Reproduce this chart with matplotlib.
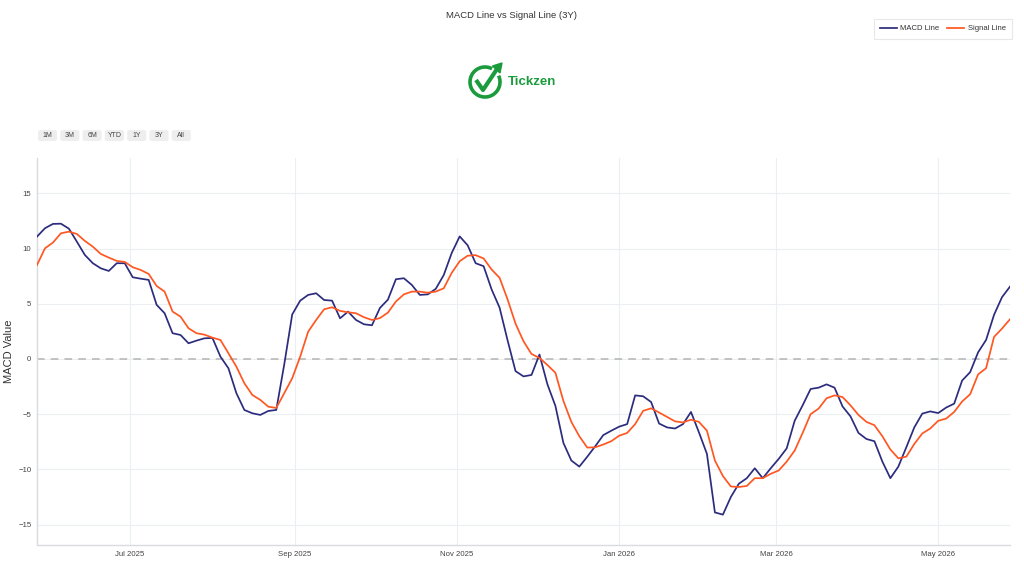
import numpy as np
import pandas as pd
import matplotlib
matplotlib.use("Agg")
import matplotlib.pyplot as plt
import matplotlib.dates as mdates
from matplotlib.patches import Arc, FancyBboxPatch, Polygon

plt.rcParams['font.family'] = ['Liberation Sans', 'DejaVu Sans']

# data, one reading every 3 days
dates = pd.date_range("2025-05-27", periods=123, freq="3D")

macd = [11.08, 11.84, 12.23, 12.25, 11.8, 10.62, 9.42, 8.67, 8.21, 7.97,
        8.67, 8.67, 7.4, 7.27, 7.16, 4.9, 4.14, 2.33, 2.17, 1.42,
        1.66, 1.87, 1.9, 0.21, -0.84, -3.1, -4.62, -4.92, -5.07, -4.71,
        -4.62, -0.5, 4.03, 5.28, 5.8, 5.95, 5.34, 5.28, 3.68, 4.29,
        3.53, 3.14, 3.05, 4.62, 5.37, 7.22, 7.31, 6.7, 5.8, 5.85,
        6.35, 7.6, 9.6, 11.1, 10.29, 8.67, 8.4, 6.3, 4.65, 1.7,
        -1.1, -1.58, -1.45, 0.4, -2.3, -4.25, -7.6, -9.2, -9.75, -8.85,
        -7.9, -6.9, -6.5, -6.13, -5.9, -3.3, -3.38, -3.9, -5.85, -6.2,
        -6.3, -5.9, -4.8, -6.65, -8.6, -13.9, -14.1, -12.5, -11.3, -10.8,
        -9.9, -10.8, -9.9, -9.05, -8.1, -5.6, -4.2, -2.72, -2.6, -2.3,
        -2.6, -4.3, -5.2, -6.7, -7.25, -7.45, -9.3, -10.8, -9.75, -8.0,
        -6.2, -4.95, -4.75, -4.9, -4.4, -4.05, -1.95, -1.2, 0.6, 1.72,
        4.0, 5.6, 6.55]

signal = [8.51, 10.02, 10.54, 11.38, 11.53, 11.32, 10.69, 10.17, 9.51, 9.18,
          8.88, 8.79, 8.31, 8.06, 7.7, 6.61, 6.1, 4.29, 3.83, 2.78,
          2.33, 2.2, 1.93, 1.72, 0.52, -0.7, -2.2, -3.26, -3.71, -4.32,
          -4.44, -3.1, -1.75, 0.21, 2.47, 3.53, 4.5, 4.68, 4.35, 4.23,
          4.14, 3.78, 3.53, 3.7, 4.2, 5.2, 5.85, 6.1, 6.1, 6.0,
          6.1, 6.4, 7.8, 8.85, 9.35, 9.4, 9.1, 8.1, 7.35, 5.4,
          3.2, 1.6, 0.45, 0.1, -0.55, -1.25, -3.8, -5.7, -7.0, -8.03,
          -8.0, -7.75, -7.45, -6.95, -6.7, -5.9, -4.7, -4.47, -4.85, -5.25,
          -5.65, -5.75, -5.5, -5.7, -6.5, -9.2, -10.6, -11.55, -11.6, -11.5,
          -10.8, -10.8, -10.4, -10.1, -9.3, -8.3, -6.7, -5.0, -4.5, -3.56,
          -3.3, -3.45, -4.2, -5.07, -5.7, -6.0, -7.0, -8.2, -9.0, -8.85,
          -7.7, -6.75, -6.3, -5.6, -5.4, -4.8, -3.85, -3.2, -1.4, -0.84,
          2.0, 2.75, 3.6]

title = "MACD Line vs Signal Line (3Y)"
buttons = ["1M", "3M", "6M", "YTD", "1Y", "3Y", "All"]
yticks = [-15, -10, -5, 0, 5, 10, 15]

W, H = 1024, 576
fig = plt.figure(figsize=(W / 100, H / 100), dpi=100)
fig.patch.set_facecolor("white")

ax = fig.add_axes([37 / W, 1 - 545 / H, (1010 - 37) / W, (545 - 158) / H])
ax.plot(dates, macd, color="#2c2c7e", lw=1.25, label="MACD Line", zorder=3)
ax.plot(dates, signal, color="#ff5722", lw=1.25, label="Signal Line", zorder=3)
ax.axhline(0, color="#b4b4b4", lw=1.1, ls=(0, (5, 4)), zorder=2)

ax.set_xlim(dates[0], dates[-1])
ax.set_ylim(-16.85, 18.2)
ax.set_yticks(yticks)
ax.xaxis.set_major_locator(mdates.MonthLocator(bymonth=[1, 3, 5, 7, 9, 11]))
ax.xaxis.set_major_formatter(mdates.DateFormatter("%b %Y"))
ax.grid(True, color="#eceef2", lw=0.8)
ax.set_axisbelow(True)
ax.tick_params(length=0, labelsize=5.6, colors="#444444", pad=4)
for s in ["top", "right"]:
    ax.spines[s].set_visible(False)
for s in ["left", "bottom"]:
    ax.spines[s].set_color("#d8dbe0")
    ax.spines[s].set_linewidth(1.0)

fig.text(9 / W, 1 - 351 / H, "MACD Value", rotation=90, ha="center", va="center",
         fontsize=8, color="#333333")
fig.text(512 / W, 1 - 15 / H, title, ha="center", va="center", fontsize=6.8, color="#333333")

leg = ax.legend(loc="upper right", bbox_to_anchor=(1012 / W, 1 - 19 / H),
                bbox_transform=fig.transFigure, ncol=2, fontsize=5.5,
                frameon=True, fancybox=False, handlelength=2.2,
                columnspacing=1.0, borderpad=0.8, handletextpad=0.5,
                borderaxespad=0)
leg.get_frame().set_edgecolor("#e3e3e3")
leg.get_frame().set_linewidth(0.8)
for t in leg.get_texts():
    t.set_color("#333333")

# range selector buttons
bx = 38
for b in buttons:
    fig.patches.append(FancyBboxPatch((bx / W, 1 - 141 / H), 19 / W, 11 / H,
                                      boxstyle="round,pad=0,rounding_size=0.003",
                                      transform=fig.transFigure,
                                      facecolor="#eeeeee", edgecolor="none"))
    fig.text((bx + 9.5) / W, 1 - 135.5 / H, b, ha="center", va="center",
             fontsize=5, color="#444444")
    bx += 22.3

# logo
green = "#1c9b3d"
lax = fig.add_axes([465 / W, 1 - 102 / H, 42 / W, 42 / H])
lax.set_xlim(0, 42)
lax.set_ylim(0, 42)
lax.axis("off")
lax.add_patch(Arc((20, 20), 30, 30, theta1=62, theta2=385, color=green, lw=2.6))
lax.plot([11, 18, 32], [22, 12, 33], color=green, lw=3.0, solid_capstyle="butt")
lax.add_patch(Polygon([[37, 39], [27.5, 36], [35, 29]], closed=True, color=green))
fig.text(508 / W, 1 - 82 / H, "Tickzen", ha="left", va="center", fontsize=9.5,
         fontweight="bold", color=green)

fig.savefig("out.png", dpi=100, facecolor="white")
